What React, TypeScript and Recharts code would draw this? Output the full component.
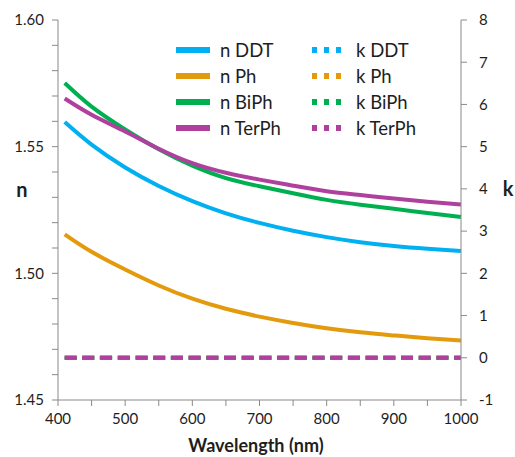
import { LineChart, Line, XAxis, YAxis, Label } from "recharts"

// wavelength (nm) and refractive index / extinction values
const wavelengths = [410, 450, 500, 550, 600, 650, 700, 750, 800, 850, 900, 950, 1000]
const nDDT = [1.5597, 1.5508, 1.5418, 1.5345, 1.5285, 1.5237, 1.5199, 1.5168, 1.5143, 1.5123, 1.5108, 1.5097, 1.5088]
const nPh = [1.5154, 1.5085, 1.5015, 1.4952, 1.49, 1.486, 1.4829, 1.4804, 1.4783, 1.4767, 1.4755, 1.4744, 1.4735]
const nBiPh = [1.5751, 1.5658, 1.5568, 1.549, 1.5425, 1.5376, 1.5344, 1.5316, 1.529, 1.5271, 1.5255, 1.5238, 1.5222]
const nTerPh = [1.569, 1.5626, 1.556, 1.5492, 1.5435, 1.5397, 1.537, 1.5346, 1.5324, 1.5309, 1.5295, 1.5283, 1.5272]
const kDDT = [0, 0, 0, 0, 0, 0, 0, 0, 0, 0, 0, 0, 0]
const kPh = [0, 0, 0, 0, 0, 0, 0, 0, 0, 0, 0, 0, 0]
const kBiPh = [0, 0, 0, 0, 0, 0, 0, 0, 0, 0, 0, 0, 0]
const kTerPh = [0, 0, 0, 0, 0, 0, 0, 0, 0, 0, 0, 0, 0]

const xTicks = [400, 450, 500, 550, 600, 650, 700, 750, 800, 850, 900, 950, 1000]
const nTicks = [1.45, 1.46, 1.47, 1.48, 1.49, 1.5, 1.51, 1.52, 1.53, 1.54, 1.55, 1.56, 1.57, 1.58, 1.59, 1.6]
const kTicks = [-1, 0, 1, 2, 3, 4, 5, 6, 7, 8]

const series = [
  { key: "nDDT", name: "n DDT", color: "#00B0F0", axis: "n", values: nDDT },
  { key: "nPh", name: "n Ph", color: "#E39A0C", axis: "n", values: nPh },
  { key: "nBiPh", name: "n BiPh", color: "#00B050", axis: "n", values: nBiPh },
  { key: "nTerPh", name: "n TerPh", color: "#B0409E", axis: "n", values: nTerPh },
  { key: "kDDT", name: "k DDT", color: "#00B0F0", axis: "k", values: kDDT },
  { key: "kPh", name: "k Ph", color: "#E39A0C", axis: "k", values: kPh },
  { key: "kBiPh", name: "k BiPh", color: "#00B050", axis: "k", values: kBiPh },
  { key: "kTerPh", name: "k TerPh", color: "#B0409E", axis: "k", values: kTerPh },
]

const data = wavelengths.map((w, i) => {
  const row: Record<string, number> = { w }
  series.forEach((s) => {
    row[s.key] = s.values[i]
  })
  return row
})

const axisColor = "#8a8a8a"
const textColor = "#1e1e1e"
const font = "Lato, 'Open Sans', sans-serif"

// legend sits inside the plot area, so keep it out of the chart's layout
function LegendBox() {
  const nSeries = series.filter((s) => s.axis === "n")
  const kSeries = series.filter((s) => s.axis === "k")
  const item = (s: (typeof series)[number]) => (
    <div key={s.key} style={{ display: "flex", alignItems: "center", height: 26 }}>
      <svg width={36} height={10} style={{ marginRight: 8 }}>
        {s.axis === "n" ? (
          <line x1={0} y1={5} x2={34} y2={5} stroke={s.color} strokeWidth={6} />
        ) : (
          <line x1={0} y1={5} x2={32} y2={5} stroke={s.color} strokeWidth={6} strokeDasharray="5 7" />
        )}
      </svg>
      <span>{s.name}</span>
    </div>
  )
  return (
    <div
      style={{
        position: "absolute",
        left: 176,
        top: 37,
        display: "flex",
        fontFamily: font,
        fontSize: 18.5,
        color: textColor,
        lineHeight: "26px",
      }}
    >
      <div style={{ width: 136 }}>{nSeries.map(item)}</div>
      <div>{kSeries.map(item)}</div>
    </div>
  )
}

export default function App() {
  return (
    <div style={{ position: "absolute", left: 0, top: 0, width: 515, height: 457, background: "#fff" }}>
      <LineChart
        width={515}
        height={457}
        data={data}
        margin={{ top: 20, right: 0, bottom: 0, left: 0 }}
        style={{ fontFamily: font }}
      >
        <XAxis
          dataKey="w"
          type="number"
          domain={[400, 1000]}
          ticks={xTicks}
          interval={0}
          height={57}
          stroke={axisColor}
          tickSize={6}
          tickMargin={7}
          tick={{ fill: textColor, fontSize: 15 }}
          tickFormatter={(v: number) => (v % 100 === 0 ? String(v) : "")}
        >
          <Label
            content={() => (
              <text x={256} y={452} textAnchor="middle" fontSize={18} fontWeight="bold" fill={textColor}>
                Wavelength (nm)
              </text>
            )}
          />
        </XAxis>
        <YAxis
          yAxisId="n"
          domain={[1.45, 1.6]}
          ticks={nTicks}
          interval={0}
          width={58}
          stroke={axisColor}
          tickSize={6}
          tickMargin={8}
          tick={{ fill: textColor, fontSize: 15 }}
          tickFormatter={(v: number) => (Math.round(v * 100) % 5 === 0 ? v.toFixed(2) : "")}
        >
          <Label
            content={() => (
              <text x={22} y={197} textAnchor="middle" fontSize={20} fontWeight="bold" fill={textColor}>
                n
              </text>
            )}
          />
        </YAxis>
        <YAxis
          yAxisId="k"
          orientation="right"
          domain={[-1, 8]}
          ticks={kTicks}
          interval={0}
          width={54}
          stroke={axisColor}
          tickSize={6}
          tickMargin={12}
          tick={{ fill: textColor, fontSize: 15 }}
        >
          <Label
            content={() => (
              <text x={508} y={196} textAnchor="middle" fontSize={20} fontWeight="bold" fill={textColor}>
                k
              </text>
            )}
          />
        </YAxis>
        {series.map((s) => (
          <Line
            key={s.key}
            yAxisId={s.axis}
            dataKey={s.key}
            name={s.name}
            type="natural"
            stroke={s.color}
            strokeWidth={4}
            strokeDasharray={s.axis === "k" ? "12 5.7" : undefined}
            dot={false}
            activeDot={false}
            isAnimationActive={false}
          />
        ))}
      </LineChart>
      <LegendBox />
    </div>
  )
}
